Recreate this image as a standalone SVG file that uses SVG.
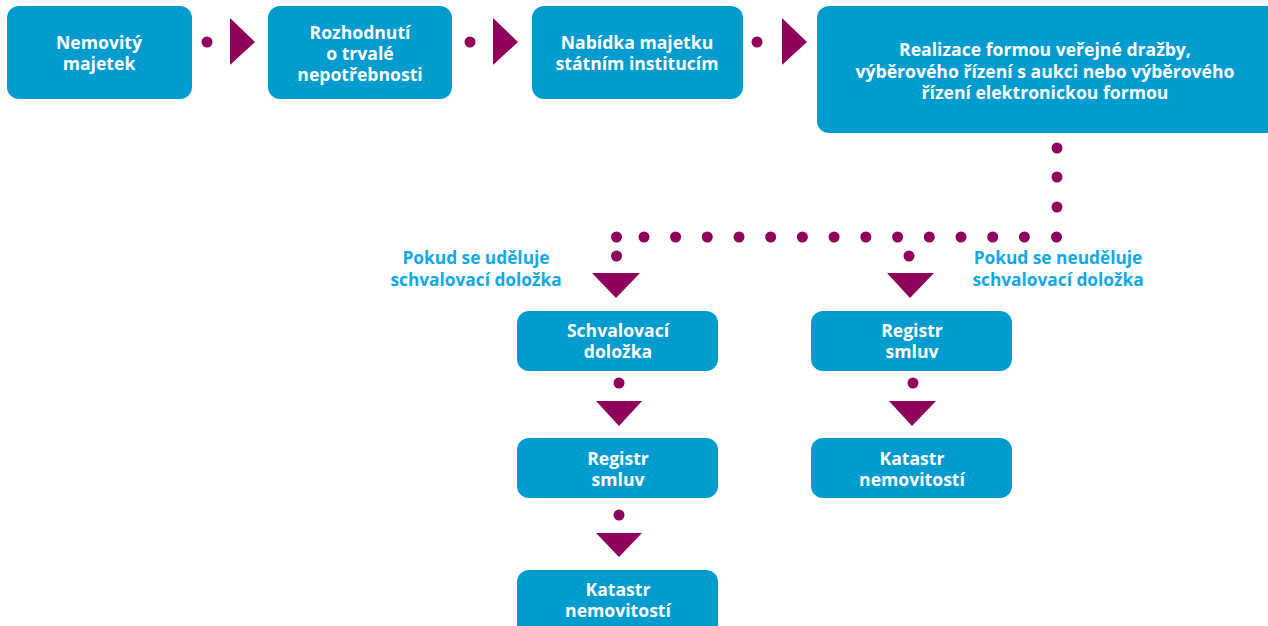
<svg xmlns="http://www.w3.org/2000/svg" width="1268" height="626" viewBox="0 0 1268 626">
<style>
.box{fill:#009ccf}
.t{font-family:"Open Sans",Lato,"DejaVu Sans",sans-serif;font-weight:bold;font-size:17.6px;fill:#ffffff;text-anchor:middle}
.lbl{font-family:"Open Sans",Lato,"DejaVu Sans",sans-serif;font-weight:bold;font-size:17.3px;fill:#0fa9e6;text-anchor:middle}
.d{fill:#8f005c}
</style>
<rect width="1268" height="626" fill="#ffffff"/>
<g id="n1"><rect class="box" x="7" y="6" width="185" height="93" rx="12"/><text class="t" x="99" y="49">Nemovitý</text><text class="t" x="99" y="70">majetek</text></g>
<g id="n2"><rect class="box" x="268" y="6" width="184" height="93" rx="12"/><text class="t" x="360" y="39">Rozhodnutí</text><text class="t" x="360" y="60">o trvalé</text><text class="t" x="360" y="81">nepotřebnosti</text></g>
<g id="n3"><rect class="box" x="532" y="6" width="211" height="93" rx="12"/><text class="t" x="637" y="49">Nabídka majetku</text><text class="t" x="637" y="70">státním institucím</text></g>
<g id="n4"><rect class="box" x="817" y="6" width="465" height="127" rx="12"/><text class="t" x="1045" y="56">Realizace formou veřejné dražby,</text><text class="t" x="1045" y="78">výběrového řízení s aukci nebo výběrového</text><text class="t" x="1045" y="99">řízení elektronickou formou</text></g>
<g id="n5"><rect class="box" x="517" y="311" width="201" height="60" rx="12"/><text class="t" x="618" y="337">Schvalovací</text><text class="t" x="618" y="358">doložka</text></g>
<g id="n6"><rect class="box" x="517" y="438" width="201" height="60" rx="12"/><text class="t" x="618" y="465">Registr</text><text class="t" x="618" y="486">smluv</text></g>
<g id="n7"><rect class="box" x="517" y="570" width="201" height="70" rx="12"/><text class="t" x="618" y="596">Katastr</text><text class="t" x="618" y="617">nemovitostí</text></g>
<g id="n8"><rect class="box" x="811" y="311" width="201" height="60" rx="12"/><text class="t" x="912" y="337">Registr</text><text class="t" x="912" y="358">smluv</text></g>
<g id="n9"><rect class="box" x="811" y="438" width="201" height="60" rx="12"/><text class="t" x="912" y="465">Katastr</text><text class="t" x="912" y="486">nemovitostí</text></g>
<g id="labels"><text class="lbl" x="476" y="264">Pokud se uděluje</text><text class="lbl" x="476" y="286">schvalovací doložka</text><text class="lbl" x="1058" y="264">Pokud se neuděluje</text><text class="lbl" x="1058" y="286">schvalovací doložka</text></g>
<g id="connectors" class="d">
<circle cx="207" cy="42" r="5.5"/><polygon points="230,18 255,42 230,65"/>
<circle cx="470" cy="42" r="5.5"/><polygon points="493,18 518,42 493,65"/>
<circle cx="757" cy="42" r="5.5"/><polygon points="782,18 807,42 782,65"/>
<circle cx="1057" cy="148" r="5.5"/><circle cx="1057" cy="177" r="5.5"/><circle cx="1057" cy="207" r="5.5"/>
<circle cx="616.5" cy="237" r="5.5"/><circle cx="644" cy="237" r="5.5"/><circle cx="675.6" cy="237" r="5.5"/><circle cx="707.3" cy="237" r="5.5"/><circle cx="739" cy="237" r="5.5"/><circle cx="770.7" cy="237" r="5.5"/><circle cx="802.4" cy="237" r="5.5"/><circle cx="834.1" cy="237" r="5.5"/><circle cx="865.8" cy="237" r="5.5"/><circle cx="897.6" cy="237" r="5.5"/><circle cx="929.3" cy="237" r="5.5"/><circle cx="961" cy="237" r="5.5"/><circle cx="992.7" cy="237" r="5.5"/><circle cx="1024.4" cy="237" r="5.5"/><circle cx="1056.5" cy="237" r="5.5"/>
<circle cx="616.5" cy="256" r="5.5"/><polygon points="592,273 640,273 616,298"/>
<circle cx="909" cy="256" r="5.5"/><polygon points="887,273 934,273 910,298"/>
<circle cx="619" cy="383" r="5.5"/><polygon points="596,401 642,401 619,426"/>
<circle cx="619" cy="515" r="5.5"/><polygon points="596,533 642,533 619,557"/>
<circle cx="913" cy="383" r="5.5"/><polygon points="889,401 936,401 912,426"/>
</g>
</svg>
